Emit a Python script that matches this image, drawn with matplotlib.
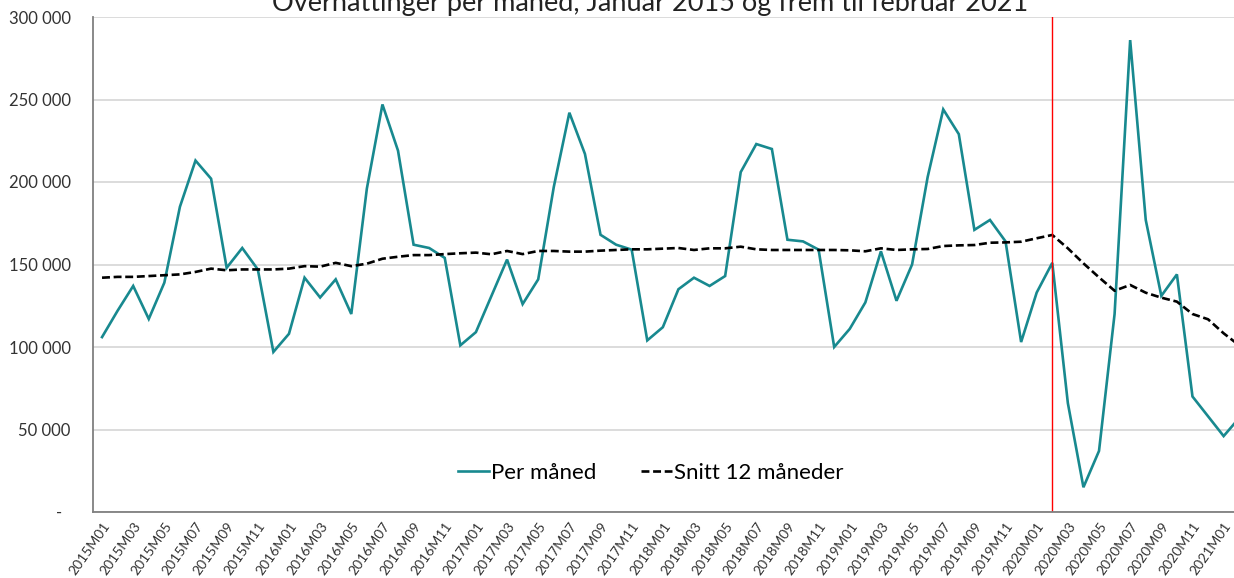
import matplotlib
matplotlib.use("Agg")
import matplotlib.pyplot as plt
import numpy as np

plt.rcParams['font.family'] = ['Lato', 'DejaVu Sans']

# 2015M01 .. 2021M02
per_maned = [106000, 122000, 137000, 117000, 139000, 185000, 213000, 202000, 148000, 160000, 147000, 97000,
             108000, 142000, 130000, 141000, 120000, 196000, 247000, 219000, 162000, 160000, 154000, 101000,
             109000, 131000, 153000, 126000, 141000, 197000, 242000, 217000, 168000, 162000, 159000, 104000,
             112000, 135000, 142000, 137000, 143000, 206000, 223000, 220000, 165000, 164000, 159000, 100000,
             111000, 127000, 158000, 128000, 150000, 203000, 244000, 229000, 171000, 177000, 164000, 103000,
             133000, 151000, 66000, 15000, 37000, 120000, 286000, 177000, 131000, 144000, 70000, 58000,
             46000, 57000]
snitt_12 = [142000, 142500, 142500, 143000, 143500, 144000, 145500, 147500, 146500, 147000, 147000, 147000,
            147500, 149000, 148700, 151000, 149000, 150500, 153500, 154700, 155700, 155700, 156300, 156800,
            157200, 156200, 158200, 156300, 158200, 158200, 157800, 157800, 158400, 158800, 159200, 159200,
            159600, 160000, 158800, 159800, 159800, 160800, 159200, 158800, 158800, 158800, 158800, 158800,
            158600, 158000, 159800, 158800, 159200, 159400, 161200, 161600, 161800, 163200, 163400, 163800,
            165900, 167900, 159800, 150700, 142200, 134100, 137600, 132900, 129900, 127500, 120000, 116800,
            108300, 101000]
maneder = [f"{y}M{m:02d}" for y in range(2015, 2022) for m in range(1, 13)][:len(per_maned)]
covid_idx = 61  # 2020M02

fig = plt.figure(figsize=(12.34, 5.78), dpi=100)
W, H = 1234, 578
ax = fig.add_axes([93 / W, 1 - 512 / H, (1247 - 93) / W, (512 - 17) / H])

x = np.arange(len(per_maned))
ax.plot(x, per_maned, color="#18898f", lw=1.9, label="Per måned", solid_joinstyle="miter")
ax.plot(x, snitt_12, color="black", lw=1.9, ls=(0, (3.0, 1.4)), label="Snitt 12 måneder")
ax.axvline(covid_idx, color="red", lw=1.0)

ax.set_xlim(-0.58, 73.5)
ax.set_ylim(0, 300000)
ax.set_yticks(np.arange(0, 300001, 50000))
ax.set_yticklabels(["-  "] + [f"{v:,}".replace(",", " ") for v in range(50000, 300001, 50000)])
ax.set_xticks(x[::2])
ax.set_xticklabels(maneder[::2], rotation=55, ha="right", rotation_mode="anchor")
ax.tick_params(axis="y", length=0, pad=16, labelsize=12, colors="#333333")
ax.tick_params(axis="x", length=0, pad=6, labelsize=10, colors="#333333")

ax.grid(axis="y", color="#d9d9d9", lw=1.3)
ax.set_axisbelow(True)
for s in ["top", "right"]:
    ax.spines[s].set_visible(False)
for s in ["left", "bottom"]:
    ax.spines[s].set_color("#808080")
    ax.spines[s].set_linewidth(1.3)

ax.legend(loc="center", bbox_to_anchor=(651 / W, 1 - 473 / H), bbox_transform=fig.transFigure,
          ncol=2, frameon=False, fontsize=16, handlelength=1.4, handletextpad=0.1, columnspacing=2.0)

# title is cut at the top edge, as in the original
fig.text(650 / W, 1 - 11 / H, "Overnattinger per måned, Januar 2015 og frem til februar 2021",
         ha="center", va="baseline", fontsize=19.5, color="#222222")

fig.savefig("out.png", dpi=100)
